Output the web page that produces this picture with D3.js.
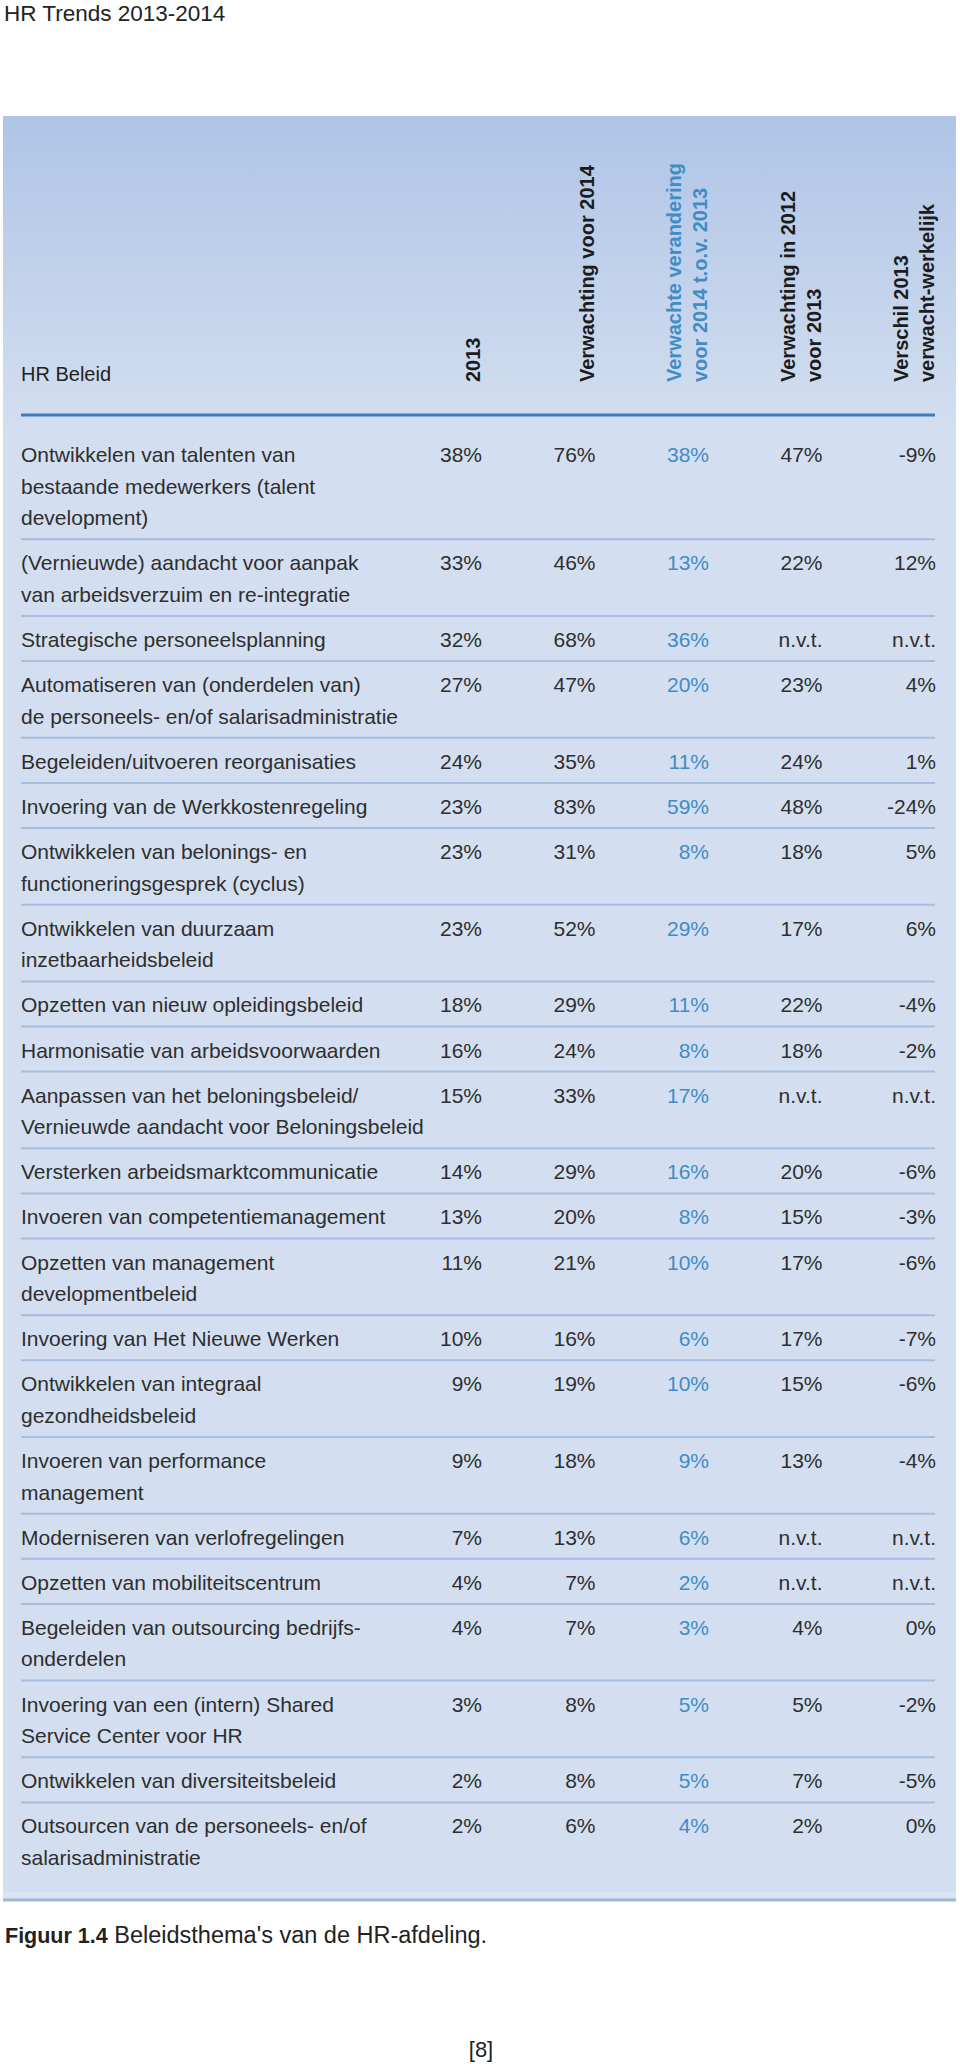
<!DOCTYPE html>
<html>
<head>
<meta charset="utf-8">
<title>HR Trends 2013-2014</title>
<script src="https://cdn.jsdelivr.net/npm/d3@7"></script>
<style>
    body { margin: 0; background: #fff; }
    svg { display: block; }
</style>
</head>
<body>
<script>
// Figuur 1.4 Beleidsthema's van de HR-afdeling

var policies = [
    "Ontwikkelen van talenten van|bestaande medewerkers (talent|development)",
    "(Vernieuwde) aandacht voor aanpak|van arbeidsverzuim en re-integratie",
    "Strategische personeelsplanning",
    "Automatiseren van (onderdelen van)|de personeels- en/of salarisadministratie",
    "Begeleiden/uitvoeren reorganisaties",
    "Invoering van de Werkkostenregeling",
    "Ontwikkelen van belonings- en|functioneringsgesprek (cyclus)",
    "Ontwikkelen van duurzaam|inzetbaarheidsbeleid",
    "Opzetten van nieuw opleidingsbeleid",
    "Harmonisatie van arbeidsvoorwaarden",
    "Aanpassen van het beloningsbeleid/|Vernieuwde aandacht voor Beloningsbeleid",
    "Versterken arbeidsmarktcommunicatie",
    "Invoeren van competentiemanagement",
    "Opzetten van management|developmentbeleid",
    "Invoering van Het Nieuwe Werken",
    "Ontwikkelen van integraal|gezondheidsbeleid",
    "Invoeren van performance|management",
    "Moderniseren van verlofregelingen",
    "Opzetten van mobiliteitscentrum",
    "Begeleiden van outsourcing bedrijfs-|onderdelen",
    "Invoering van een (intern) Shared|Service Center voor HR",
    "Ontwikkelen van diversiteitsbeleid",
    "Outsourcen van de personeels- en/of|salarisadministratie"
];

// null = n.v.t.
var actual2013   = [38, 33, 32, 27, 24, 23, 23, 23, 18, 16, 15, 14, 13, 11, 10, 9, 9, 7, 4, 4, 3, 2, 2];
var expected2014 = [76, 46, 68, 47, 35, 83, 31, 52, 29, 24, 33, 29, 20, 21, 16, 19, 18, 13, 7, 7, 8, 8, 6];
var change2014   = [38, 13, 36, 20, 11, 59, 8, 29, 11, 8, 17, 16, 8, 10, 6, 10, 9, 6, 2, 3, 5, 5, 4];
var expected2013 = [47, 22, null, 23, 24, 48, 18, 17, 22, 18, null, 20, 15, 17, 17, 15, 13, null, null, 4, 5, 7, 2];
var diff2013     = [-9, 12, null, 4, 1, -24, 5, 6, -4, -2, null, -6, -3, -6, -7, -6, -4, null, null, 0, -2, -5, 0];

var columns = ["2013", "Verwachting voor 2014", "Verwachte verandering|voor 2014 t.o.v. 2013",
    "Verwachting in 2012|voor 2013", "Verschil 2013|verwacht-werkelijk"];

var w = 960,
    h = 2064,
    left = 21,
    right = 935,
    lineH = 31.6,
    rowPad = 13.5;

var blue = "#3f8cc6",
    ink = "#2e2e2e",
    bodyFont = "'Liberation Sans', Arial, sans-serif";

var svg = d3.select("body").append("svg")
    .attr("width", w)
    .attr("height", h);

var defs = svg.append("defs");
var grad = defs.append("linearGradient")
    .attr("id", "panel-grad")
    .attr("gradientUnits", "userSpaceOnUse")
    .attr("x1", 0).attr("y1", 116)
    .attr("x2", 0).attr("y2", 430);
grad.append("stop").attr("offset", 0).attr("stop-color", "#afc4e6");
grad.append("stop").attr("offset", 1).attr("stop-color", "#d3dff0");

// page header
svg.append("text")
    .attr("x", 4).attr("y", 21)
    .attr("font-family", bodyFont)
    .attr("font-size", 22.5)
    .attr("fill", "#222")
    .text("HR Trends 2013-2014");

// rows: build a small table from the arrays
var rows = policies.map(function (p, i) {
    return {
        lines: p.split("|"),
        values: [actual2013[i], expected2014[i], change2014[i], expected2013[i], diff2013[i]]
    };
});

var cum = 0;
rows.forEach(function (r, i) {
    r.top = 431 + i * rowPad + cum * lineH;
    cum += r.lines.length;
});
var tableBottom = 431 + rows.length * rowPad + cum * lineH;
var panelBottom = tableBottom + 21;

// panel
svg.append("rect")
    .attr("x", 3).attr("y", 116)
    .attr("width", 953)
    .attr("height", panelBottom - 116)
    .attr("fill", "url(#panel-grad)");

svg.append("rect")
    .attr("x", 3).attr("y", panelBottom - 8)
    .attr("width", 953).attr("height", 6)
    .attr("fill", "#dae4f3");

svg.append("line")
    .attr("x1", 3).attr("x2", 956)
    .attr("y1", panelBottom).attr("y2", panelBottom)
    .attr("stroke", "#a4b5da")
    .attr("stroke-width", 3);

// column positions (right edges of the numbers)
var xScale = d3.scalePoint()
    .domain(d3.range(columns.length))
    .range([482, 936]);

// column headers
svg.append("text")
    .attr("x", left).attr("y", 381)
    .attr("font-family", bodyFont)
    .attr("font-size", 20)
    .attr("fill", "#222")
    .text("HR Beleid");

columns.forEach(function (c, i) {
    var parts = c.split("|");
    parts.forEach(function (t, j) {
        var bx = xScale(i) - 2 - (parts.length - 1 - j) * 26;
        svg.append("text")
            .attr("transform", "translate(" + bx + ",382) rotate(-90)")
            .attr("font-family", bodyFont)
            .attr("font-weight", "bold")
            .attr("font-size", 20)
            .attr("fill", i === 2 ? blue : "#1c1c1c")
            .text(t);
    });
});

svg.append("line")
    .attr("x1", left).attr("x2", right)
    .attr("y1", 415).attr("y2", 415)
    .attr("stroke", "#3d7dbf")
    .attr("stroke-width", 3);

// separators
svg.selectAll("line.sep")
    .data(rows.slice(1))
    .enter().append("line")
    .attr("class", "sep")
    .attr("x1", left).attr("x2", right)
    .attr("y1", function (d) { return d.top; })
    .attr("y2", function (d) { return d.top; })
    .attr("stroke", "#a7bde0")
    .attr("stroke-width", 2);

var rowG = svg.selectAll("g.row")
    .data(rows)
    .enter().append("g")
    .attr("class", "row")
    .attr("transform", function (d) { return "translate(0," + (d.top + 31) + ")"; });

rowG.selectAll("text.label")
    .data(function (d) { return d.lines; })
    .enter().append("text")
    .attr("class", "label")
    .attr("x", left)
    .attr("y", function (d, j) { return j * lineH; })
    .attr("font-family", bodyFont)
    .attr("font-size", 21)
    .attr("fill", ink)
    .text(function (d) { return d; });

rowG.selectAll("text.val")
    .data(function (d) { return d.values; })
    .enter().append("text")
    .attr("class", "val")
    .attr("x", function (d, j) { return xScale(j); })
    .attr("y", 0)
    .attr("text-anchor", "end")
    .attr("font-family", bodyFont)
    .attr("font-size", 21)
    .attr("fill", function (d, j) { return j === 2 ? blue : ink; })
    .text(function (d) { return d === null ? "n.v.t." : d + "%"; });

// caption
var cap = svg.append("text")
    .attr("x", 5).attr("y", panelBottom + 43)
    .attr("font-family", bodyFont)
    .attr("fill", "#222");
cap.append("tspan").attr("font-weight", "bold").attr("font-size", 21.5).text("Figuur 1.4");
cap.append("tspan").attr("font-size", 23.5).text(" Beleidsthema's van de HR-afdeling.");

svg.append("text")
    .attr("x", 481).attr("y", 2057)
    .attr("text-anchor", "middle")
    .attr("font-family", bodyFont)
    .attr("font-size", 22)
    .attr("fill", "#222")
    .text("[8]");
</script>
</body>
</html>
